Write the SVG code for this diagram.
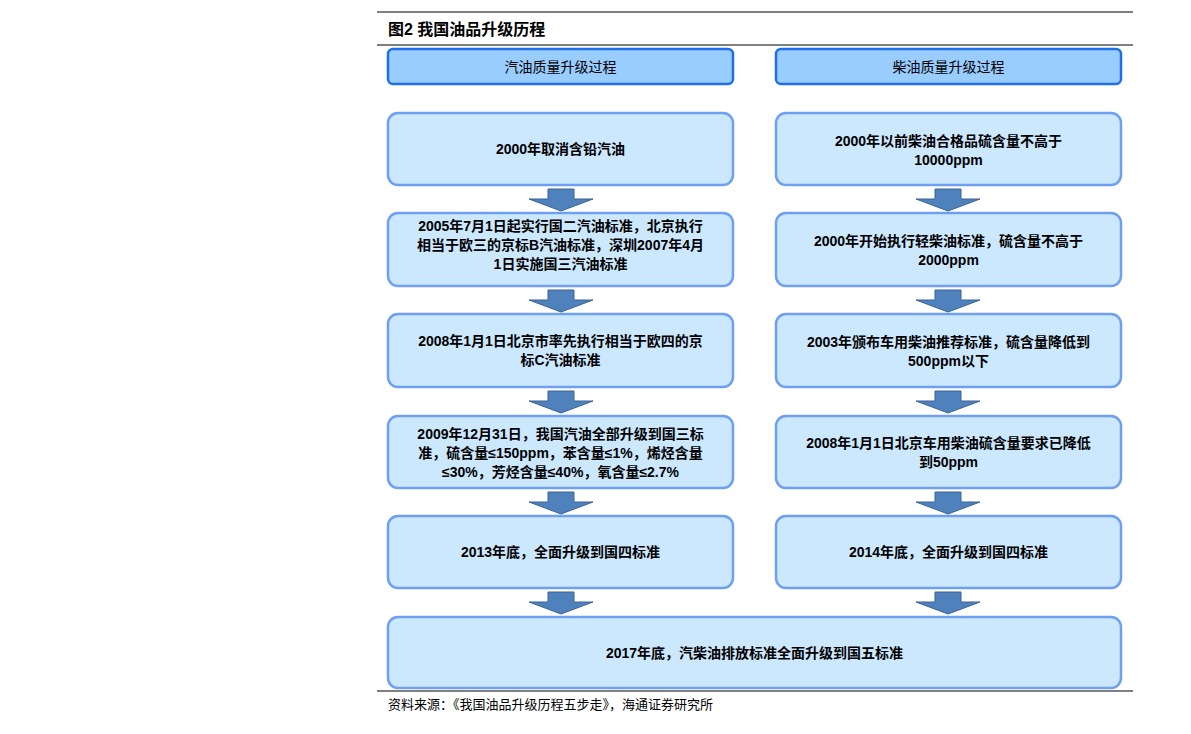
<svg xmlns="http://www.w3.org/2000/svg" width="1191" height="734" viewBox="0 0 1191 734">
<style>
.hd{fill:#99ccff;stroke:#1f6fe8;stroke-width:2.5}
.bx{fill:#cce8ff;stroke:#6f9ff0;stroke-width:2.5}
.t{font-family:"Liberation Sans","Noto Sans CJK SC",sans-serif;font-size:14px;font-weight:bold;fill:#000;text-anchor:middle}
.h{font-family:"Noto Sans CJK SC",sans-serif;font-size:14px;fill:#000;text-anchor:middle}
.ar{fill:#4f81bd;stroke:#3b6394;stroke-width:1}
</style>
<defs><path id="arr" class="ar" d="M-13,0 H13 V10 H32 L0,22 L-32,10 H-13 Z"/></defs>
<rect width="1191" height="734" fill="#fff"/>
<line x1="377" y1="12" x2="1133" y2="12" stroke="#000" stroke-width="1"/>
<line x1="377" y1="45" x2="1133" y2="45" stroke="#000" stroke-width="1"/>
<line x1="377" y1="691" x2="1133" y2="691" stroke="#000" stroke-width="1"/>
<text x="388" y="35" font-family="Liberation Sans,'Noto Sans CJK SC',sans-serif" font-size="16" font-weight="bold">图2  我国油品升级历程</text>
<text x="388" y="709" font-family="'Noto Sans CJK SC',sans-serif" font-size="13">资料来源：《我国油品升级历程五步走》，海通证券研究所</text>
<g id="hdL"><rect class="hd" x="388" y="49" width="345" height="35" rx="5"/><text class="h" x="560.5" y="72">汽油质量升级过程</text></g>
<g id="hdR"><rect class="hd" x="776" y="49" width="345" height="35" rx="5"/><text class="h" x="948.5" y="72">柴油质量升级过程</text></g>
<g id="L1"><rect class="bx" x="388" y="113" width="345" height="72" rx="10"/><text class="t" x="560.5" y="154">2000年取消含铅汽油</text></g>
<g id="L2"><rect class="bx" x="388" y="213" width="345" height="73" rx="10"/><text class="t" x="560.5" y="231">2005年7月1日起实行国二汽油标准，北京执行</text><text class="t" x="560.5" y="250">相当于欧三的京标B汽油标准，深圳2007年4月</text><text class="t" x="560.5" y="269">1日实施国三汽油标准</text></g>
<g id="L3"><rect class="bx" x="388" y="314" width="345" height="73" rx="10"/><text class="t" x="560.5" y="346">2008年1月1日北京市率先执行相当于欧四的京</text><text class="t" x="560.5" y="365">标C汽油标准</text></g>
<g id="L4"><rect class="bx" x="388" y="416" width="345" height="72" rx="10"/><text class="t" x="560.5" y="439">2009年12月31日，我国汽油全部升级到国三标</text><text class="t" x="560.5" y="458">准，硫含量≤150ppm，苯含量≤1%，烯烃含量</text><text class="t" x="560.5" y="477">≤30%，芳烃含量≤40%，氧含量≤2.7%</text></g>
<g id="L5"><rect class="bx" x="388" y="516" width="345" height="72" rx="10"/><text class="t" x="560.5" y="557">2013年底，全面升级到国四标准</text></g>
<g id="R1"><rect class="bx" x="776" y="113" width="345" height="72" rx="10"/><text class="t" x="948.5" y="146">2000年以前柴油合格品硫含量不高于</text><text class="t" x="948.5" y="165">10000ppm</text></g>
<g id="R2"><rect class="bx" x="776" y="213" width="345" height="73" rx="10"/><text class="t" x="948.5" y="246">2000年开始执行轻柴油标准，硫含量不高于</text><text class="t" x="948.5" y="265">2000ppm</text></g>
<g id="R3"><rect class="bx" x="776" y="314" width="345" height="73" rx="10"/><text class="t" x="948.5" y="347">2003年颁布车用柴油推荐标准，硫含量降低到</text><text class="t" x="948.5" y="366">500ppm以下</text></g>
<g id="R4"><rect class="bx" x="776" y="416" width="345" height="72" rx="10"/><text class="t" x="948.5" y="448">2008年1月1日北京车用柴油硫含量要求已降低</text><text class="t" x="948.5" y="467">到50ppm</text></g>
<g id="R5"><rect class="bx" x="776" y="516" width="345" height="72" rx="10"/><text class="t" x="948.5" y="557">2014年底，全面升级到国四标准</text></g>
<g id="B"><rect class="bx" x="388" y="617" width="733" height="71" rx="10"/><text class="t" x="754.5" y="658">2017年底，汽柴油排放标准全面升级到国五标准</text></g>
<g id="connectors">
<use href="#arr" x="561" y="189"/><use href="#arr" x="561" y="290"/><use href="#arr" x="561" y="391"/><use href="#arr" x="561" y="492"/><use href="#arr" x="561" y="592"/>
<use href="#arr" x="948" y="189"/><use href="#arr" x="948" y="290"/><use href="#arr" x="948" y="391"/><use href="#arr" x="948" y="492"/><use href="#arr" x="948" y="592"/>
</g>
</svg>
